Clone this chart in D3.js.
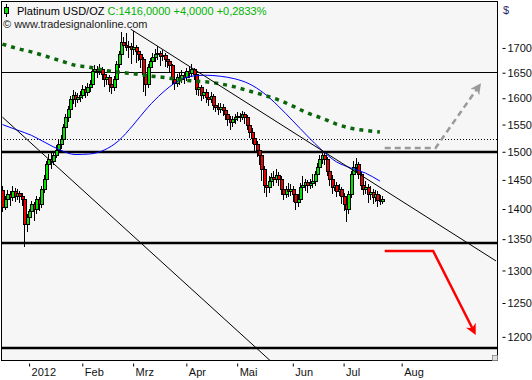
<!DOCTYPE html>
<html>
<head>
<meta charset="utf-8">
<script src="https://cdn.jsdelivr.net/npm/d3@7"></script>
<style>
body { margin: 0; background: #fff; }
svg { display: block; font-family: "Liberation Sans", Arial, sans-serif; }
</style>
</head>
<body>
<div id="chart"></div>
<script>
// Trading days (weekdays) Dec 16 2011 .. Jul 24 2012, then calendar days as free space
var firstDay = "2011-12-16", lastBarDay = "2012-07-24", lastDay = "2012-09-10";

var opens = [1432,1402,1416,1424,1419,1429,1422,1426,1421,1416,
    1374,1385,1395,1407,1399,1416,1407,1433,1450,1477,
    1486,1482,1494,1503,1513,1522,1544,1563,1578,1597,
    1606,1597,1601,1606,1616,1612,1620,1626,1652,1656,
    1652,1656,1646,1636,1640,1626,1620,1636,1666,1686,
    1712,1706,1700,1704,1696,1700,1692,1686,1676,1646,
    1626,1660,1672,1680,1686,1688,1682,1684,1676,1672,
    1664,1636,1628,1640,1636,1644,1640,1652,1648,1656,
    1646,1616,1620,1606,1612,1601,1597,1603,1587,1582,
    1578,1582,1576,1568,1559,1553,1559,1564,1566,1564,
    1568,1564,1549,1536,1525,1513,1503,1494,1468,1441,
    1436,1447,1454,1450,1457,1450,1433,1424,1433,1429,
    1433,1424,1411,1416,1436,1441,1445,1440,1443,1447,
    1459,1471,1486,1494,1486,1464,1450,1436,1441,1429,
    1433,1421,1407,1399,1424,1459,1471,1477,1459,1441,
    1433,1436,1424,1428,1419,1424,1414,1412];

var highs = [1440,1422,1432,1430,1440,1436,1434,1430,1428,1420,
    1392,1400,1414,1412,1422,1420,1440,1458,1484,1496,
    1498,1502,1512,1522,1530,1552,1570,1586,1605,1616,
    1612,1610,1614,1626,1624,1630,1636,1660,1666,1664,
    1668,1662,1652,1648,1646,1634,1644,1674,1694,1732,
    1722,1730,1714,1710,1736,1706,1700,1692,1682,1652,
    1668,1680,1690,1698,1704,1694,1696,1690,1684,1678,
    1668,1642,1648,1650,1656,1650,1660,1662,1668,1660,
    1650,1628,1626,1620,1618,1608,1612,1608,1596,1590,
    1590,1588,1582,1574,1566,1566,1570,1574,1572,1576,
    1574,1568,1556,1544,1532,1520,1510,1500,1474,1452,
    1456,1462,1466,1470,1464,1456,1440,1440,1444,1442,
    1440,1430,1426,1444,1456,1452,1450,1452,1460,1466,
    1480,1494,1504,1500,1490,1470,1458,1450,1446,1442,
    1438,1428,1412,1430,1466,1484,1488,1482,1464,1450,
    1448,1442,1440,1434,1432,1430,1424,1422];

var lows = [1395,1398,1410,1405,1414,1412,1415,1410,1405,1338,
    1362,1378,1388,1380,1392,1396,1402,1428,1445,1468,
    1470,1476,1488,1495,1505,1515,1536,1555,1570,1588,
    1584,1590,1592,1598,1600,1605,1612,1620,1642,1640,
    1645,1636,1622,1626,1612,1608,1614,1630,1660,1680,
    1690,1694,1680,1668,1686,1670,1674,1660,1612,1605,
    1620,1652,1664,1672,1676,1664,1674,1662,1660,1650,
    1625,1615,1622,1626,1630,1628,1634,1640,1642,1636,
    1606,1604,1594,1598,1590,1586,1590,1578,1574,1568,
    1572,1566,1558,1548,1540,1546,1552,1556,1554,1558,
    1552,1540,1526,1514,1500,1490,1476,1448,1428,1420,
    1428,1436,1440,1444,1440,1424,1416,1418,1420,1422,
    1412,1398,1404,1410,1428,1430,1428,1434,1436,1440,
    1452,1464,1478,1476,1456,1440,1426,1430,1420,1422,
    1408,1396,1378,1392,1418,1452,1462,1452,1432,1424,
    1426,1410,1416,1408,1412,1404,1406,1408];

var closes = [1402,1416,1424,1419,1429,1422,1426,1421,1416,1374,
    1385,1395,1407,1399,1416,1407,1433,1450,1477,1486,
    1482,1494,1503,1513,1522,1544,1563,1578,1597,1606,
    1597,1601,1606,1616,1612,1620,1626,1652,1656,1652,
    1656,1646,1636,1640,1626,1620,1636,1666,1686,1712,
    1706,1700,1704,1696,1700,1692,1686,1676,1646,1626,
    1660,1672,1680,1686,1688,1682,1684,1676,1672,1664,
    1636,1628,1640,1636,1644,1640,1652,1648,1656,1646,
    1616,1620,1606,1612,1601,1597,1603,1587,1582,1578,
    1582,1576,1568,1559,1553,1559,1564,1566,1564,1568,
    1564,1549,1536,1525,1513,1503,1494,1468,1441,1436,
    1447,1454,1450,1457,1450,1433,1424,1433,1429,1433,
    1424,1411,1416,1436,1441,1445,1440,1443,1447,1459,
    1471,1486,1494,1486,1464,1450,1436,1441,1429,1433,
    1421,1407,1399,1424,1459,1471,1477,1459,1441,1433,
    1436,1424,1428,1419,1424,1414,1412,1416];

// moving averages, sampled every 6th bar
var maBars = [0,6,12,18,24,30,36,42,48,54,60,66,72,78,84,90,96,102,108,114,120,126,132,138,144,150,156];
var maSlow = [1708,1699,1692,1683,1674,1665,1661,1655,1651,1648,1644,1641,1637,1634,1632,1628,1622,1614,1606,1597,1585,1572,1562,1551,1543,1539,1536];
var maFast = [1550,1540,1530,1516,1503,1495,1496,1503,1520,1549,1582,1610,1632,1643,1645,1643,1638,1628,1610,1585,1557,1529,1503,1482,1471,1462,1448];

// horizontal levels
var levelsThin = [1652];
var levelsThick = [1500, 1344, 1184];
var levelsDotted = [1523];

// trend lines and scenario arrows: [date, price]
var trendResistance = [["2012-02-29", 1739], ["2012-09-09", 1315]];
var trendSupport = [["2011-12-16", 1564], ["2012-05-22", 1162]];
var arrowUp = [["2012-07-25", 1507], ["2012-08-15", 1507], ["2012-09-02", 1624]];
var arrowDown = [["2012-07-25", 1331], ["2012-08-14", 1331], ["2012-08-31", 1207]];

var yTicks = [1200, 1250, 1300, 1350, 1400, 1450, 1500, 1550, 1600, 1650, 1700];
var monthLabels = ["2012", "Feb", "Mrz", "Apr", "Mai", "Jun", "Jul", "Aug"];

var W = 532, H = 380;
var plot = { left: 1, top: 1, right: 497, bottom: 360 };

var parseDate = d3.timeParse("%Y-%m-%d");

// slots: weekdays while there is data, calendar days afterwards
var slots = d3.timeDay.range(parseDate(firstDay), d3.timeDay.offset(parseDate(lastDay), 1))
    .filter(function (d) {
        return d > parseDate(lastBarDay) || (d.getDay() != 0 && d.getDay() != 6);
    });

function slotOf(s) {
    var t = +parseDate(s);
    return slots.findIndex(function (d) { return +d == t; });
}

var bars = closes.map(function (c, i) {
    return { i: i, open: opens[i], high: highs[i], low: lows[i], close: c };
});

var x = d3.scaleLinear()
    .domain([-0.6, 204.4])
    .range([plot.left, plot.right]);

var y = d3.scaleLog()
    .domain([1167, 1799])
    .range([plot.bottom, plot.top]);

var svg = d3.select("#chart").append("svg")
    .attr("width", W)
    .attr("height", H);

svg.append("clipPath")
    .attr("id", "clip")
    .append("rect")
    .attr("x", plot.left)
    .attr("y", plot.top)
    .attr("width", plot.right - plot.left)
    .attr("height", plot.bottom - plot.top);

svg.append("rect")
    .attr("x", plot.left + 0.5)
    .attr("y", plot.top + 0.5)
    .attr("width", plot.right - plot.left)
    .attr("height", plot.bottom - plot.top)
    .attr("fill", "#f6f6f6");

var area = svg.append("g").attr("clip-path", "url(#clip)");

// Levels
area.selectAll(".lvl-thin").data(levelsThin).enter().append("line")
    .attr("x1", plot.left).attr("x2", plot.right)
    .attr("y1", function (d) { return Math.round(y(d)) + 0.5; })
    .attr("y2", function (d) { return Math.round(y(d)) + 0.5; })
    .attr("stroke", "#000").attr("stroke-width", 1.2);

area.selectAll(".lvl-thick").data(levelsThick).enter().append("line")
    .attr("x1", plot.left).attr("x2", plot.right)
    .attr("y1", function (d) { return Math.round(y(d)); })
    .attr("y2", function (d) { return Math.round(y(d)); })
    .attr("stroke", "#000").attr("stroke-width", 2.5);

area.selectAll(".lvl-dot").data(levelsDotted).enter().append("line")
    .attr("x1", plot.left).attr("x2", plot.right)
    .attr("y1", function (d) { return Math.round(y(d)) + 0.5; })
    .attr("y2", function (d) { return Math.round(y(d)) + 0.5; })
    .attr("stroke", "#000").attr("stroke-width", 1)
    .attr("stroke-dasharray", "1,2");

// Candles
var candle = area.append("g")
    .attr("shape-rendering", "crispEdges")
    .selectAll("g")
    .data(bars)
    .enter()
    .append("g");

candle.append("line")
    .attr("x1", function (d) { return Math.round(x(d.i)) + 0.5; })
    .attr("x2", function (d) { return Math.round(x(d.i)) + 0.5; })
    .attr("y1", function (d) { return y(d.high); })
    .attr("y2", function (d) { return y(d.low); })
    .attr("stroke", "#000");

candle.append("rect")
    .attr("x", function (d) { return Math.round(x(d.i)) - 1; })
    .attr("width", 3)
    .attr("y", function (d) { return y(Math.max(d.open, d.close)); })
    .attr("height", function (d) { return Math.max(1, Math.abs(y(d.open) - y(d.close))); })
    .attr("fill", function (d) { return d.close >= d.open ? "#00e400" : "#ee0000"; })
    .attr("stroke", "#000")
    .attr("stroke-width", 1);

// Moving averages
var maLine = d3.line()
    .x(function (d, i) { return x(maBars[i]); })
    .y(function (d) { return y(d); })
    .curve(d3.curveMonotoneX);

area.append("path")
    .attr("d", maLine(maFast))
    .attr("fill", "none")
    .attr("stroke", "#0000ff")
    .attr("stroke-width", 1);

area.append("path")
    .attr("d", maLine(maSlow))
    .attr("fill", "none")
    .attr("stroke", "#0a660a")
    .attr("stroke-width", 3.5)
    .attr("stroke-dasharray", "4,5");

// Trend lines
var dateLine = d3.line()
    .x(function (d) { return x(slotOf(d[0])); })
    .y(function (d) { return y(d[1]); });

[trendResistance, trendSupport].forEach(function (t) {
    area.append("path")
        .attr("d", dateLine(t))
        .attr("fill", "none")
        .attr("stroke", "#000")
        .attr("stroke-width", 1);
});

// Scenario arrows
var defs = svg.append("defs");
function marker(id, color) {
    defs.append("marker")
        .attr("id", id)
        .attr("viewBox", "0 0 10 10")
        .attr("refX", 7).attr("refY", 5)
        .attr("markerUnits", "userSpaceOnUse")
        .attr("markerWidth", 11).attr("markerHeight", 11)
        .attr("orient", "auto")
        .append("path")
        .attr("d", "M0,0 L10,5 L0,10 L3,5 z")
        .attr("fill", color);
}
marker("head-grey", "#9a9a9a");
marker("head-red", "#ff0000");

area.append("path")
    .attr("d", dateLine(arrowUp))
    .attr("fill", "none")
    .attr("stroke", "#9a9a9a")
    .attr("stroke-width", 2.5)
    .attr("stroke-dasharray", "6,4")
    .attr("marker-end", "url(#head-grey)");

area.append("path")
    .attr("d", dateLine(arrowDown))
    .attr("fill", "none")
    .attr("stroke", "#ff0000")
    .attr("stroke-width", 2.5)
    .attr("marker-end", "url(#head-red)");

// Frame
svg.append("rect")
    .attr("x", plot.left + 0.5)
    .attr("y", plot.top + 0.5)
    .attr("width", plot.right - plot.left)
    .attr("height", plot.bottom - plot.top)
    .attr("fill", "none")
    .attr("stroke", "#000");

// Y axis on the right
var yAxis = d3.axisRight(y).tickValues(yTicks).tickFormat(d3.format("d")).tickSize(8).tickPadding(2);
var gY = svg.append("g")
    .attr("transform", "translate(" + (plot.right + 0.5) + ",0)")
    .call(yAxis);
gY.select(".domain").remove();
gY.selectAll(".tick line").attr("x1", 5).attr("stroke", "#000");
gY.selectAll(".tick text")
    .attr("fill", "#111")
    .style("font-size", "11px")
    .style("font-family", "'Liberation Sans', Arial, sans-serif");

svg.append("text")
    .attr("x", 503).attr("y", 14)
    .attr("fill", "#2a2a6a")
    .style("font-size", "11px")
    .text("$");

// X axis: first slot of every month
var monthSlots = [];
slots.forEach(function (d, i) {
    if (i > 0 && d.getMonth() != slots[i - 1].getMonth() && monthSlots.length < monthLabels.length) {
        monthSlots.push(i);
    }
});

var xAxis = d3.axisBottom(x)
    .tickValues(monthSlots)
    .tickSize(6)
    .tickFormat(function (d, i) { return monthLabels[i]; });
var gX = svg.append("g")
    .attr("transform", "translate(0," + (plot.bottom + 0.5) + ")")
    .call(xAxis);
gX.select(".domain").remove();
gX.selectAll(".tick line").attr("y1", 3).attr("stroke", "#000");
gX.selectAll(".tick text")
    .attr("text-anchor", "start")
    .attr("x", 2)
    .attr("y", 8)
    .attr("fill", "#111")
    .style("font-size", "11px")
    .style("font-family", "'Liberation Sans', Arial, sans-serif");

// Title with last close
var last = closes[closes.length - 1], prev = closes[closes.length - 2];
function num(v) { return d3.format(".4f")(v).replace(".", ","); }
function signed(v) { return (v >= 0 ? "+" : "") + num(v); }

var icon = svg.append("g").attr("shape-rendering", "crispEdges");
icon.append("line").attr("x1", 6.5).attr("x2", 6.5).attr("y1", 4).attr("y2", 17).attr("stroke", "#000");
icon.append("rect").attr("x", 4.5).attr("y", 7.5).attr("width", 4).attr("height", 6)
    .attr("fill", "#00e400").attr("stroke", "#000");

var title = svg.append("text")
    .attr("x", 17).attr("y", 15)
    .style("font-size", "11px");
title.append("tspan").attr("fill", "#000").text("Platinum USD/OZ ");
title.append("tspan").attr("fill", "#00b400")
    .text("C:" + num(last) + " " + signed(last - prev) + " " + signed((last - prev) / prev * 100) + "%");

svg.append("text")
    .attr("x", 3).attr("y", 28)
    .attr("fill", "#222")
    .style("font-size", "11px")
    .text("\u00a9 www.tradesignalonline.com");

// resize grip in the corner
svg.append("rect")
    .attr("x", 492.5).attr("y", 355.5).attr("width", 5).attr("height", 5)
    .attr("fill", "#e0e0e0").attr("stroke", "#888").attr("stroke-width", 0.8);
</script>
</body>
</html>
